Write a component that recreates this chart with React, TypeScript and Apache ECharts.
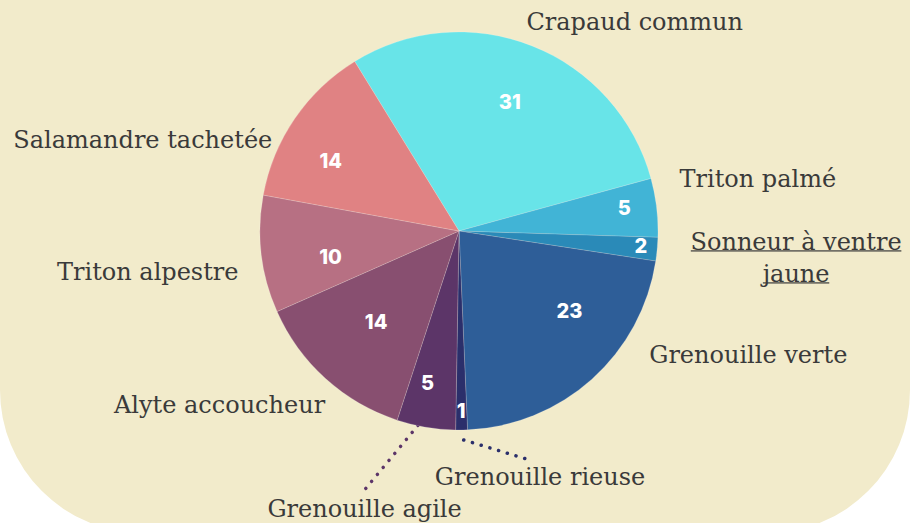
import React, { useEffect, useRef } from "react";
import * as echarts from "echarts";

const categories = [
  "Crapaud commun",
  "Triton palmé",
  "Sonneur à ventre jaune",
  "Grenouille verte",
  "Grenouille rieuse",
  "Grenouille agile",
  "Alyte accoucheur",
  "Triton alpestre",
  "Salamandre tachetée",
];
const values = [31, 5, 2, 23, 1, 5, 14, 10, 14];
const colors = [
  "#68E4E8",
  "#41B4D6",
  "#2A8AB8",
  "#2E5E98",
  "#2B2F6B",
  "#5C3568",
  "#884F70",
  "#B77083",
  "#E08283",
];
const labelTexts = [
  "Crapaud commun",
  "Triton palmé",
  "{u|Sonneur à ventre}\n{u|jaune}",
  "Grenouille verte",
  "Grenouille rieuse",
  "Grenouille agile",
  "Alyte accoucheur",
  "Triton alpestre",
  "Salamandre tachetée",
];
// label nudges (styling)
const labelDx = [-28, -12, 104, 29, -42, 54, 28, 12, 9];
const labelDy = [-5, -26, 7, -39, 27, 62, 12, 15, 33];
const innerDx = [0, -6, 10, 18, 0, -3, 10, 9, -14];
const innerDy = [0, -3, -1, -23, 8, -18, -12, 10, 8];

const underlineSvg =
  "data:image/svg+xml;charset=utf-8," +
  encodeURIComponent(
    '<svg xmlns="http://www.w3.org/2000/svg" width="100" height="32" viewBox="0 0 100 32" preserveAspectRatio="none"><rect x="0" y="27" width="100" height="1.6" fill="#3a3a3a"/></svg>'
  );

export default function App() {
  const ref = useRef<HTMLDivElement>(null);
  useEffect(() => {
    if (!ref.current) return;
    const chart = echarts.init(ref.current, null, { renderer: "svg" });
    const startAngle = 121.6;
    const center = [459, 231];
    const R = 199;

    const outerData = categories.map((name, i) => ({
      name,
      value: values[i],
      itemStyle: { color: colors[i] },
      label: { formatter: labelTexts[i] },
      labelLine:
        i === 4 || i === 5
          ? {
              show: true,
              lineStyle: { color: colors[i], width: 3.5, type: [0.1, 9], cap: "round" },
            }
          : { show: false },
    }));

    const bigData = categories.map((name, i) => ({
      name,
      value: values[i],
      label: { show: values[i] >= 10 },
    }));
    const smallData = categories.map((name, i) => ({
      name,
      value: values[i],
      label: { show: values[i] < 10 },
    }));

    const numLabel = {
      show: true,
      position: "inside",
      color: "#ffffff",
      fontFamily: "Inter",
      fontWeight: 800,
      fontSize: 20,
      formatter: "{c}",
    };
    const innerLayout = (p: any) => ({
      dx: innerDx[p.dataIndex],
      dy: innerDy[p.dataIndex],
      hideOverlap: false,
    });

    chart.setOption({
      animation: false,
      graphic: [
        {
          type: "rect",
          silent: true,
          z: -10,
          shape: { x: 0, y: -200, width: 910, height: 733, r: 143 },
          style: { fill: "#F2EBCB" },
        },
      ],
      series: [
        {
          type: "pie",
          center,
          radius: [0, R],
          startAngle,
          clockwise: true,
          avoidLabelOverlap: false,
          itemStyle: { borderColor: "rgba(255,255,255,0.35)", borderWidth: 0.5 },
          label: {
            show: true,
            position: "outside",
            alignTo: "none",
            color: "#3a3a3a",
            fontFamily: "DejaVu Serif",
            fontSize: 24,
            lineHeight: 32,
            rich: {
              u: {
                fontFamily: "DejaVu Serif",
                fontSize: 24,
                lineHeight: 32,
                color: "#3a3a3a",
                backgroundColor: { image: underlineSvg },
              },
            },
          },
          labelLine: { show: false, length: 20, length2: 10 },
          labelLayout: (p: any) => {
            const i = p.dataIndex;
            const dx = labelDx[i];
            const dy = labelDy[i];
            const out: any = { dx, dy, hideOverlap: false };
            if (i === 2) out.align = "center";
            const pts = p.labelLinePoints;
            const rect = p.labelRect || p.rect;
            if ((i === 4 || i === 5) && pts && rect) {
              const a = pts[0];
              const b = pts[1];
              const start =
                i === 4
                  ? [(a[0] + b[0]) / 2 + 2, (a[1] + b[1]) / 2]
                  : [a[0] - 8, a[1] - 2];
              const end = [
                rect.x + rect.width / 2 + dx + (i === 4 ? -7 : 0),
                rect.y + dy + (i === 4 ? 0 : -3),
              ];
              out.labelLinePoints = [
                start,
                [(start[0] + end[0]) / 2, (start[1] + end[1]) / 2],
                end,
              ];
            }
            return out;
          },
          data: outerData,
        },
        {
          type: "pie",
          center,
          radius: [72, R],
          startAngle,
          silent: true,
          itemStyle: { color: "transparent" },
          label: numLabel,
          labelLine: { show: false },
          labelLayout: innerLayout,
          data: bigData,
        },
        {
          type: "pie",
          center,
          radius: [140, R],
          startAngle,
          silent: true,
          itemStyle: { color: "transparent" },
          label: numLabel,
          labelLine: { show: false },
          labelLayout: innerLayout,
          data: smallData,
        },
      ],
    });
    return () => chart.dispose();
  }, []);
  return (
    <div
      ref={ref}
      style={{ position: "fixed", left: 0, top: 0, width: 917, height: 523, background: "#ffffff" }}
    />
  );
}
